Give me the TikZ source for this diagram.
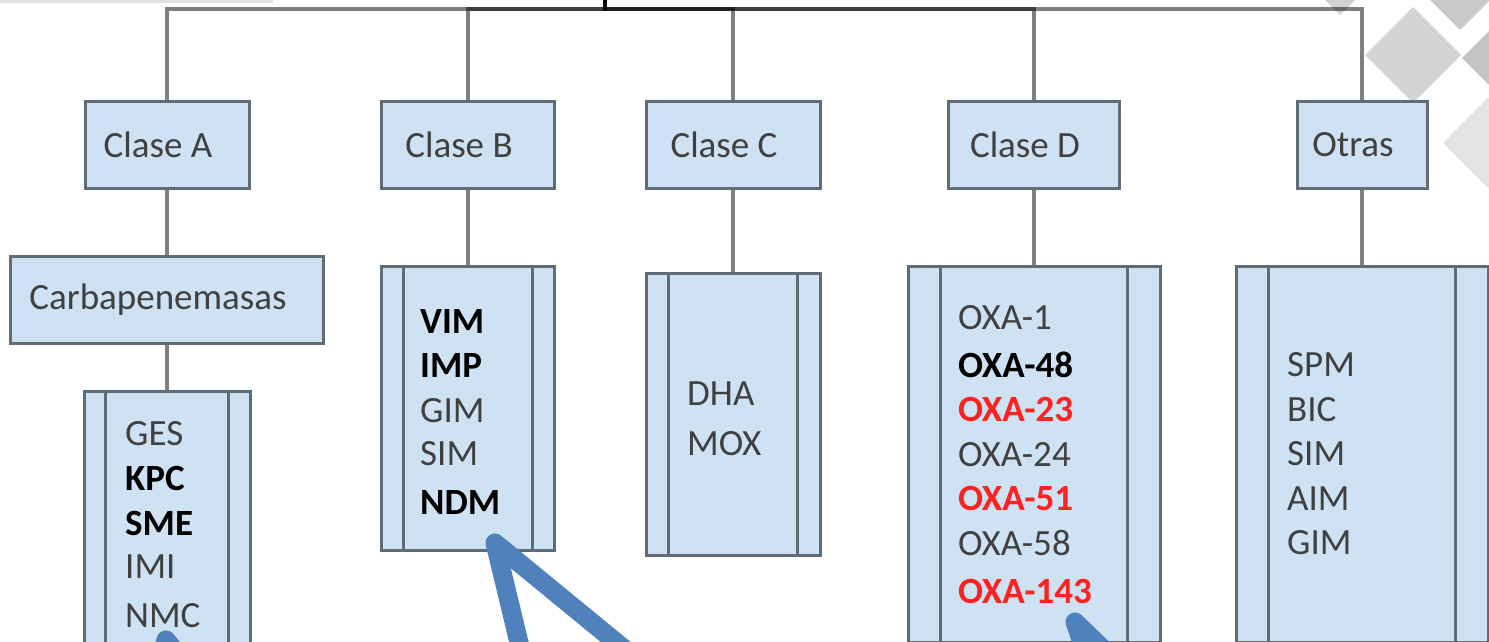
\documentclass[tikz,border=0pt]{standalone}
\usepackage{fontspec}
\setmainfont{Carlito}
\usepackage{xcolor}
\usepackage{tikz}
\usetikzlibrary{calc}

\definecolor{boxfill}{HTML}{CFE2F3}
\definecolor{boxline}{HTML}{5F6B75}
\definecolor{txtgray}{HTML}{404040}
\definecolor{oxared}{HTML}{FF2020}
\definecolor{arrowblue}{HTML}{4F81BD}

\begin{document}
\begin{tikzpicture}[x=1pt, y=-1pt,
  every node/.style={font=\fontsize{37}{44}\selectfont, text=txtgray},
  clase/.style={draw=boxline, fill=boxfill, line width=3pt, minimum height=87pt, inner sep=0pt},
  etiq/.style={clase, execute at end node={\hspace*{18pt}}},
  lista/.style={clase, anchor=north, path picture={
    \draw[boxline, line width=3pt]
      ($(path picture bounding box.north west)!0.13!(path picture bounding box.north east)$) --
      ($(path picture bounding box.south west)!0.13!(path picture bounding box.south east)$)
      ($(path picture bounding box.north east)!0.13!(path picture bounding box.north west)$) --
      ($(path picture bounding box.south east)!0.13!(path picture bounding box.south west)$);}},
  item/.style={anchor=base west, inner sep=0pt},
  conn/.style={black, opacity=0.5, line width=3.5pt},
  flecha/.style={arrowblue, line width=19pt, line join=round}]
\useasboundingbox (0,0) rectangle (1489,642);
\clip (0,0) rectangle (1489,642);

% logo in the corner
\foreach \cx/\cy/\h/\g in {1340/-15/30/18, 1413/55/48/17, 1460/-10/40/21, 1510/58/48/23, 1495/143/52/11}
  \fill[black!\g] (\cx-\h,\cy) -- (\cx,\cy-\h) -- (\cx+\h,\cy) -- (\cx,\cy+\h) -- cycle;
\fill[black!12] (0,0) rectangle (273,3);

% first level
\node[etiq, minimum width=164pt] (claseA) at (167,145) {Clase A};
\node[etiq, minimum width=173pt] (claseB) at (468,145) {Clase B};
\node[etiq, minimum width=174pt] (claseC) at (733,145) {Clase C};
\node[etiq, minimum width=171pt] (claseD) at (1034,145) {Clase D};
\node[etiq, minimum width=130pt] (otras) at (1362,145) {Otras};

% second level
\node[etiq, minimum width=313pt] (carba) at (167,300) {Carbapenemasas};
\node[lista, minimum width=166pt, minimum height=300pt] (listaA) at (167,390) {};
\node[lista, minimum width=173pt, minimum height=284pt] (listaB) at (468,265) {};
\node[lista, minimum width=174pt, minimum height=282pt] (listaC) at (733,272) {};
\node[lista, minimum width=252pt, minimum height=376pt] (listaD) at (1034,265) {};
\node[lista, minimum width=252pt, minimum height=376pt] (listaO) at (1362,265) {};

\foreach \y/\t [count=\i] in {445/GES, 490/{\bfseries\color{black}KPC}, 535/{\bfseries\color{black}SME}, 578/IMI, 627/NMC}
  \node[item] (a\i) at (125,\y) {\t};
\foreach \y/\t [count=\i] in {333/{\bfseries\color{black}VIM}, 377/{\bfseries\color{black}IMP}, 422/GIM, 465/SIM, 514/{\bfseries\color{black}NDM}}
  \node[item] (b\i) at (420,\y) {\t};
\foreach \y/\t [count=\i] in {405/DHA, 455/MOX}
  \node[item] (c\i) at (687,\y) {\t};
\foreach \y/\t [count=\i] in {329/OXA-1, 377/{\bfseries\color{black}OXA-48}, 421/{\bfseries\color{oxared}OXA-23}, 466/OXA-24, 510/{\bfseries\color{oxared}OXA-51}, 555/OXA-58, 603/{\bfseries\color{oxared}OXA-143}}
  \node[item] (d\i) at (958,\y) {\t};
\foreach \y/\t [count=\i] in {376/SPM, 421/BIC, 465/SIM, 510/AIM, 554/GIM}
  \node[item] (o\i) at (1287,\y) {\t};

% connectors
\coordinate (raiz) at (605,-40);
\foreach \c in {claseA,claseB,claseC,claseD,otras}
  \draw[conn] (raiz) -- ++(0,49) -| (\c.north);
\draw[conn] (claseA.south) -- (carba.north);
\draw[conn] (carba.south) -- (listaA.north);
\draw[conn] (claseB.south) -- (listaB.north);
\draw[conn] (claseC.south) -- (listaC.north);
\draw[conn] (claseD.south) -- (listaD.north);
\draw[conn] (otras.south) -- (listaO.north);

% blue pointers
\coordinate (puntaA) at (166,640);
\coordinate (puntaB) at (495,543);
\coordinate (puntaD) at (1075,622);
\draw[flecha] (150,700) -- (puntaA) -- (215,700);
\draw[flecha] (528,680) -- (puntaB) -- (662,680);
\draw[flecha] (1095,680) -- (puntaD) -- (1135,680);
\end{tikzpicture}
\end{document}
